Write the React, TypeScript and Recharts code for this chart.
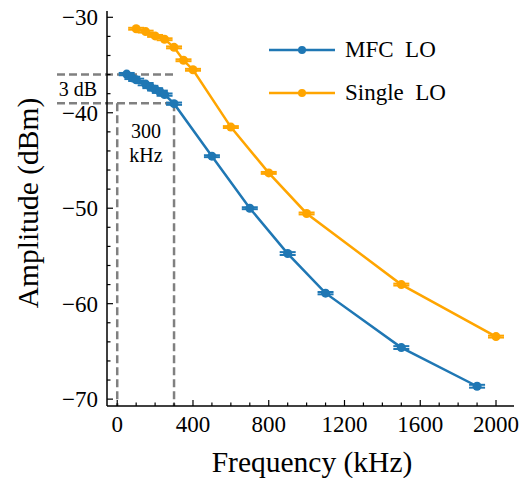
import { LineChart, Line, XAxis, YAxis, ErrorBar, ReferenceLine } from 'recharts'

// MFC LO measurements
const mfcFreq = [50, 80, 100, 150, 175, 200, 225, 250, 300, 500, 700, 900, 1100, 1500, 1900]
const mfcAmp = [-35.95, -36.35, -36.55, -37.0, -37.3, -37.55, -37.8, -38.1, -39.05, -44.55, -50.0, -54.75, -58.9, -64.6, -68.65]
const mfcErr = [0.12, 0.12, 0.12, 0.12, 0.12, 0.12, 0.12, 0.12, 0.12, 0.1, 0.1, 0.15, 0.12, 0.15, 0.15]

// Single LO measurements
const singleFreq = [100, 150, 200, 250, 300, 350, 400, 600, 800, 1000, 1500, 2000]
const singleAmp = [-31.2, -31.5, -31.95, -32.3, -33.15, -34.5, -35.5, -41.5, -46.3, -50.55, -58.0, -63.45]
const singleErr = [0.1, 0.1, 0.1, 0.1, 0.1, 0.1, 0.1, 0.1, 0.1, 0.1, 0.1, 0.1]

const xTicks = [0, 100, 200, 300, 400, 500, 600, 700, 800, 900, 1000, 1100, 1200, 1300, 1400, 1500, 1600, 1700, 1800, 1900, 2000]
const xLabelled = [0, 400, 800, 1200, 1600, 2000]
const yTicks = [-70, -68, -66, -64, -62, -60, -58, -56, -54, -52, -50, -48, -46, -44, -42, -40, -38, -36, -34, -32, -30]
const yLabelled = [-70, -60, -50, -40, -30]

// 3 dB / 300 kHz guide lines
const bandTop = -36
const bandBottom = -39
const bandEdge = 300
const guideLeft = -318

const X_DOMAIN: [number, number] = [-54, 2095]
const Y_DOMAIN: [number, number] = [-70.72, -29.34]

const BLUE = '#1f77b4'
const ORANGE = '#ffa500'
const GUIDE = '#808080'
const FONT = '"Liberation Serif", "DejaVu Serif", serif'

const mfcData = mfcFreq.map((f, i) => ({ f, amp: mfcAmp[i], err: mfcErr[i] }))
const singleData = singleFreq.map((f, i) => ({ f, amp: singleAmp[i], err: singleErr[i] }))

const series = [
  { name: 'MFC\u00a0\u00a0LO', color: BLUE, data: mfcData },
  { name: 'Single\u00a0\u00a0LO', color: ORANGE, data: singleData },
]

const minus = (v: number) => (v < 0 ? '\u2212' + Math.abs(v) : String(v))

function XTick({ x, y, payload }: any) {
  const major = xLabelled.includes(payload.value)
  return (
    <g>
      <line x1={x} x2={x} y1={y} y2={y - (major ? 6 : 3.5)} stroke="#000" strokeWidth={1.2} />
      {major && (
        <text x={x} y={y + 26} textAnchor="middle" fontFamily={FONT} fontSize={23} fill="#000">
          {payload.value}
        </text>
      )}
    </g>
  )
}

function YTick({ x, y, payload }: any) {
  const major = yLabelled.includes(payload.value)
  return (
    <g>
      <line x1={x} x2={x + (major ? 6 : 3.5)} y1={y} y2={y} stroke="#000" strokeWidth={1.2} />
      {major && (
        <text x={x - 9} y={y + 8} textAnchor="end" fontFamily={FONT} fontSize={23} fill="#000">
          {minus(payload.value)}
        </text>
      )}
    </g>
  )
}

function LegendBox() {
  return (
    <div style={{ position: 'absolute', left: 269, top: 28 }}>
      {series.map((it) => (
        <div key={it.name} style={{ display: 'flex', alignItems: 'center', height: 43 }}>
          <svg width={76} height={12}>
            <line x1={0} x2={66} y1={6} y2={6} stroke={it.color} strokeWidth={2.5} />
            <circle cx={33} cy={6} r={4} fill={it.color} />
          </svg>
          <span style={{ fontFamily: FONT, fontSize: 23, color: '#000' }}>{it.name}</span>
        </div>
      ))}
    </div>
  )
}

const guide = { stroke: GUIDE, strokeWidth: 2.5, strokeDasharray: '8 4', ifOverflow: 'visible' as const }

export default function App() {
  return (
    <div style={{ position: 'absolute', left: 0, top: 0, width: 532, height: 478, background: '#fff' }}>
      <LineChart width={532} height={478} margin={{ top: 11, right: 18, bottom: 0, left: 0 }}>
        <XAxis
          type="number"
          dataKey="f"
          domain={X_DOMAIN}
          ticks={xTicks}
          interval={0}
          tick={<XTick />}
          tickLine={false}
          tickSize={0}
          tickMargin={0}
          height={72}
          allowDataOverflow
          axisLine={{ stroke: '#000', strokeWidth: 1.5 }}
        />
        <XAxis xAxisId="top" orientation="top" type="number" domain={X_DOMAIN} height={0} tick={false} tickLine={false} axisLine={{ stroke: '#000', strokeWidth: 1.5 }} />
        <YAxis
          type="number"
          domain={Y_DOMAIN}
          ticks={yTicks}
          interval={0}
          tick={<YTick />}
          tickLine={false}
          tickSize={0}
          tickMargin={0}
          width={107}
          allowDataOverflow
          axisLine={{ stroke: '#000', strokeWidth: 1.5 }}
        />
        <YAxis yAxisId="right" orientation="right" type="number" domain={Y_DOMAIN} width={0} tick={false} tickLine={false} axisLine={{ stroke: '#000', strokeWidth: 1.5 }} />
        <ReferenceLine segment={[{ x: guideLeft, y: bandTop }, { x: bandEdge, y: bandTop }]} {...guide} />
        <ReferenceLine segment={[{ x: guideLeft, y: bandBottom }, { x: bandEdge, y: bandBottom }]} {...guide} />
        <ReferenceLine segment={[{ x: 0, y: bandBottom }, { x: 0, y: Y_DOMAIN[0] }]} {...guide} />
        <ReferenceLine segment={[{ x: bandEdge, y: bandBottom }, { x: bandEdge, y: Y_DOMAIN[0] }]} {...guide} />
        {series.map((s) => (
          <Line
            key={s.name}
            data={s.data}
            dataKey="amp"
            name={s.name}
            stroke={s.color}
            strokeWidth={2.5}
            dot={{ r: 4.5, fill: s.color, stroke: s.color, strokeWidth: 0 }}
            isAnimationActive={false}
          >
            <ErrorBar dataKey="err" direction="y" width={8} stroke={s.color} strokeWidth={2} isAnimationActive={false} />
          </Line>
        ))}
      </LineChart>

      <LegendBox />

      <div style={{ position: 'absolute', left: 0, top: 0, width: 532, height: 478, pointerEvents: 'none', fontFamily: FONT, color: '#000' }}>
        <div style={{ position: 'absolute', left: 56, top: 78, width: 44, textAlign: 'center', fontSize: 20 }}>3 dB</div>
        <div style={{ position: 'absolute', left: 120, top: 119, width: 52, textAlign: 'center', fontSize: 20, lineHeight: '24px' }}>
          300
          <br />
          kHz
        </div>
        <div style={{ position: 'absolute', left: 312, top: 462, transform: 'translate(-50%, -50%)', whiteSpace: 'nowrap', fontSize: 29.5 }}>
          Frequency (kHz)
        </div>
        <div
          style={{
            position: 'absolute',
            left: 28,
            top: 203,
            transform: 'translate(-50%, -50%) rotate(-90deg)',
            whiteSpace: 'nowrap',
            fontSize: 29.5,
          }}
        >
          Amplitude (dBm)
        </div>
      </div>
    </div>
  )
}
